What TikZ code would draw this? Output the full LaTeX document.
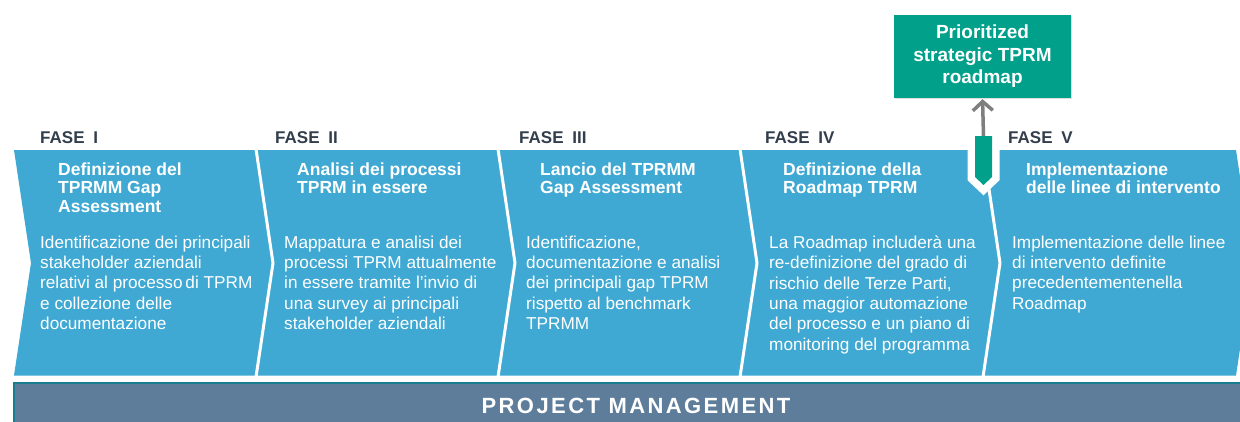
\documentclass[tikz,border=0pt]{standalone}
\usepackage{fontspec}
\setmainfont{Liberation Sans}
\usetikzlibrary{arrows.meta,shadows}

\definecolor{phaseblue}{HTML}{3FA9D3}
\definecolor{roadgreen}{HTML}{00A08B}
\definecolor{pmblue}{HTML}{5E7D9B}
\definecolor{pmedge}{HTML}{187D8E}
\definecolor{labeldark}{HTML}{323E4C}
\definecolor{arrowgray}{HTML}{7F7F7F}

\tikzset{
  phasefill/.style={fill=phaseblue},
  divider/.style={draw=white, line width=3pt, line join=round, line cap=butt},
  phaselabel/.style={anchor=base west, inner sep=0pt, text=labeldark,
    font=\fontsize{17}{20}\selectfont\bfseries},
  phasetitle/.style={anchor=north west, inner sep=0pt, text=white, align=left,
    font=\fontsize{17.5}{18.5}\selectfont\bfseries},
  phasebody/.style={anchor=north west, inner sep=0pt, text=white, align=left,
    font=\fontsize{17.2}{20.4}\selectfont},
  roadbox/.style={fill=roadgreen, minimum width=177pt, minimum height=83pt,
    inner sep=0pt, text=white, align=center,
    font=\fontsize{19}{22.5}\selectfont\bfseries,
    drop shadow={opacity=0.25, shadow xshift=1pt, shadow yshift=-1pt}},
  linkarrow/.style={draw=arrowgray, line width=3.5pt, shorten >=1pt,
    -{Straight Barb[length=9pt,width=20pt,line width=3.5pt]}},
  pmtext/.style={anchor=base, inner sep=0pt, text=white,
    font=\fontsize{22}{26}\selectfont\bfseries\addfontfeature{LetterSpace=11}},
}

\begin{document}
\begin{tikzpicture}[x=1pt,y=-1pt]
\useasboundingbox (0,0) rectangle (1240,421);
\fill[white] (0,0) rectangle (1240,421);

% five chevron-shaped phase blocks
\foreach \a/\b in {14/256,256/498,498/740,740/983,983/1236}
  \fill[phasefill] (\a,150) -- (\b,150) -- (\b+17,263) -- (\b,375.5)
    -- (\a,375.5) -- (\a+17,263) -- cycle;

% white separators between the phases
\foreach \b in {256,498,740,983}
  \draw[divider] (\b,149) -- (\b+17,263) -- (\b,377);

% milestone marker between phase IV and phase V
\coordinate (mk) at (983.5,136);
\path[draw=white, fill=white, line width=15pt, line join=miter]
  (975,136) -- (992,136) -- (992,177) -- (983.5,185) -- (975,177) -- cycle;
\fill[roadgreen]
  (975,136) -- (992,136) -- (992,177) -- (983.5,185) -- (975,177) -- cycle;

% roadmap deliverable
\node[roadbox] (rm) at (982.5,56.5)
  {Prioritized\\strategic TPRM\\roadmap};
\draw[linkarrow] (mk) -- (rm.south);

% phase labels
\node[phaselabel] (f1) at (40,143)   {FASE\hspace{4pt} I};
\node[phaselabel] (f2) at (275,143)  {FASE\hspace{4pt} II};
\node[phaselabel] (f3) at (519,143)  {FASE\hspace{4pt} III};
\node[phaselabel] (f4) at (765,143)  {FASE\hspace{4pt} IV};
\node[phaselabel] (f5) at (1008,143) {FASE\hspace{4pt} V};

% phase titles
\node[phasetitle] (t1) at (58,162.4)   {Definizione del\\TPRMM Gap\\Assessment};
\node[phasetitle] (t2) at (297,162.4)  {Analisi dei processi\\TPRM in essere};
\node[phasetitle] (t3) at (540,162.4)  {Lancio del TPRMM\\Gap Assessment};
\node[phasetitle] (t4) at (783,162.4)  {Definizione della\\Roadmap TPRM};
\node[phasetitle] (t5) at (1026,162.4) {Implementazione\\delle linee di intervento};

% phase descriptions
\node[phasebody] (d1) at (40,235.4)
  {Identificazione dei principali\\stakeholder aziendali\\relativi al processo\,di TPRM\\e collezione delle\\documentazione};
\node[phasebody] (d2) at (284,235.4)
  {Mappatura e analisi dei\\processi TPRM attualmente\\in essere tramite l’invio di\\una survey ai principali\\stakeholder aziendali};
\node[phasebody] (d3) at (526,235.4)
  {Identificazione,\\documentazione e analisi\\dei principali gap TPRM\\rispetto al benchmark\\TPRMM};
\node[phasebody] (d4) at (769,235.4)
  {La Roadmap includerà una\\re-definizione del grado di\\rischio delle Terze Parti,\\una maggior automazione\\del processo e un piano di\\monitoring del programma};
\node[phasebody] (d5) at (1012,235.4)
  {Implementazione delle linee\\di intervento definite\\precedentementenella\\Roadmap};

% project management band
\draw[fill=pmblue, draw=pmedge, line width=2pt] (14,383) rectangle (1250,428);
\node[pmtext] (pm) at (636,413) {PROJECT MANAGEMENT};
\end{tikzpicture}
\end{document}
